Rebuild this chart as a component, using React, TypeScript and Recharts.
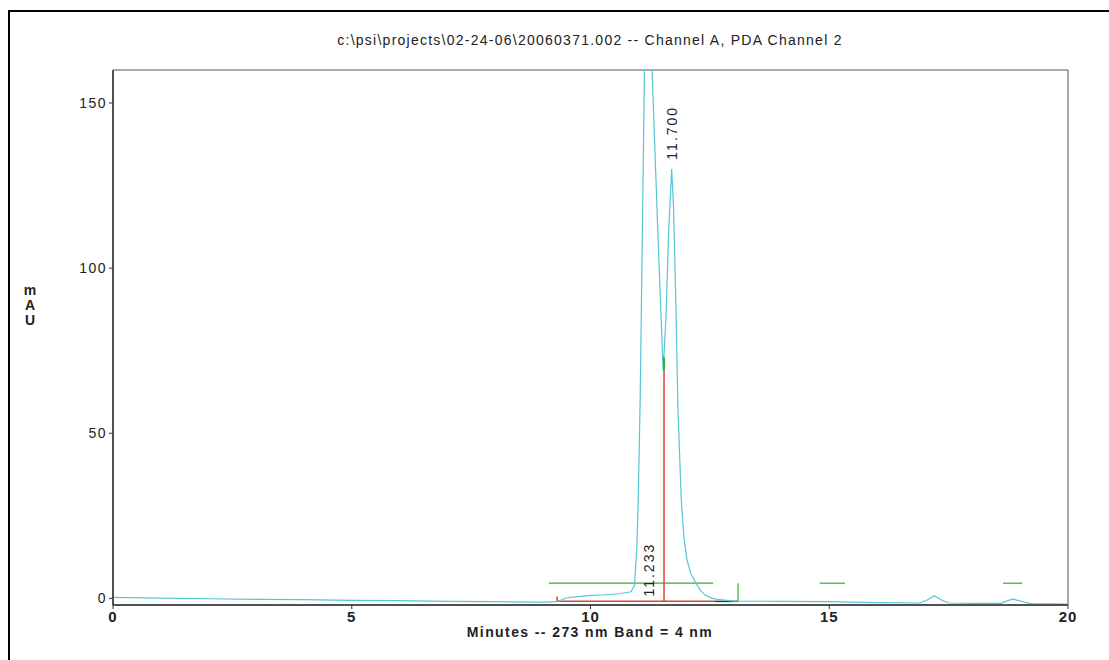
import React from "react"
import { LineChart, Line, XAxis, YAxis, ReferenceLine, ReferenceDot, ReferenceArea } from "recharts"

// retention time (min) and detector response (mAU)
const times = [
  0, 1, 2, 3, 4, 5, 6, 7, 8, 9, 9.3, 9.5, 9.8, 10.0, 10.3, 10.6, 10.85, 10.92, 10.97, 11.0, 11.04,
  11.09, 11.13, 11.18, 11.22, 11.26, 11.29, 11.4, 11.52, 11.58, 11.64, 11.7, 11.74, 11.79, 11.83,
  11.9, 11.96, 12.02, 12.1, 12.2, 12.3, 12.4, 12.55, 12.7, 13.0, 14, 15, 16, 16.9, 17.05, 17.2,
  17.35, 17.5, 18, 18.6, 18.75, 18.85, 19.0, 19.2, 20,
]
const mau = [
  0.3, 0.1, -0.1, -0.3, -0.4, -0.6, -0.7, -0.9, -1.0, -1.1, -1.0, 0.2, 0.6, 0.9, 1.1, 1.4, 2.0, 4, 15,
  30, 60, 115, 160, 195, 205, 190, 160, 115, 69, 85, 112, 130, 118, 88, 58, 30, 18, 11.7, 7.5, 4.8,
  2.5, 1, 0, -0.4, -0.8, -0.9, -1.0, -1.3, -1.4, -0.5, 0.8, -0.5, -1.4, -1.5, -1.5, -0.6, -0.2, -0.8,
  -1.6, -1.7,
]

const xTicks = [0, 5, 10, 15, 20]
const yTicks = [0, 50, 100, 150]

const peakTimes = [11.233, 11.7]
const peakNames = ["11.233", "11.700"]
const peakLabelY = [8.7, 141]

const integStart = 9.3
const integEnd = 13.09
const integBase = -0.9
const valleyTime = 11.54
const valleyValue = 69
const thresholdLevel = 4.6
const thresholdSpans = [
  [9.13, 12.57],
  [14.8, 15.33],
  [18.64, 19.04],
]

const data = times.map((t, i) => ({ t, v: mau[i] }))

const font = "'Liberation Sans', Arial, sans-serif"

const rotatedLabel = (text: string) => (props: any) => (
  <text
    x={props.cx}
    y={props.cy}
    transform={`rotate(-90 ${props.cx} ${props.cy})`}
    textAnchor="middle"
    dominantBaseline="central"
    fontFamily={font}
    fontSize={14}
    letterSpacing={2}
    fill="#222"
  >
    {text}
  </text>
)

export default function App() {
  return (
    <div style={{ position: "absolute", left: 0, top: 0, width: 1109, height: 660, overflow: "hidden", background: "#fff" }}>
      <div
        style={{
          position: "absolute",
          left: 8,
          top: 10,
          width: 1109,
          height: 660,
          borderTop: "2px solid #000",
          borderLeft: "2px solid #000",
        }}
      />
      <div
        style={{
          position: "absolute",
          left: 0,
          width: 1180,
          top: 32,
          textAlign: "center",
          fontFamily: font,
          fontSize: 14,
          letterSpacing: "1.25px",
          color: "#222",
        }}
      >
        c:\psi\projects\02-24-06\20060371.002 -- Channel A, PDA Channel 2
      </div>
      <div
        style={{
          position: "absolute",
          left: 21,
          top: 283,
          width: 18,
          textAlign: "center",
          fontFamily: font,
          fontSize: 14,
          fontWeight: "bold",
          lineHeight: "15px",
          color: "#222",
        }}
      >
        m<br />A<br />U
      </div>
      <div
        style={{
          position: "absolute",
          left: 0,
          width: 1180,
          top: 624,
          textAlign: "center",
          fontFamily: font,
          fontSize: 14,
          fontWeight: "bold",
          letterSpacing: "1.4px",
          color: "#222",
        }}
      >
        Minutes -- 273 nm Band = 4 nm
      </div>
      <div style={{ position: "absolute", left: 0, top: 0 }}>
        <LineChart width={1109} height={660} data={data} margin={{ top: 70, right: 41, left: 73, bottom: 25 }}>
          <ReferenceArea x1={0} x2={20} y1={-2} y2={160} fill="none" stroke="#555" strokeWidth={1} />
          <XAxis
            dataKey="t"
            type="number"
            domain={[0, 20]}
            ticks={xTicks}
            allowDataOverflow
            height={30}
            tickSize={4}
            axisLine={{ stroke: "#333", strokeWidth: 1.5 }}
            tickLine={{ stroke: "#333" }}
            tick={{ fontFamily: font, fontSize: 15, fill: "#222", fontWeight: "bold", letterSpacing: 1 }}
          />
          <YAxis
            type="number"
            domain={[-2, 160]}
            ticks={yTicks}
            allowDataOverflow
            width={40}
            tickSize={4}
            axisLine={{ stroke: "#333", strokeWidth: 1.5 }}
            tickLine={{ stroke: "#333" }}
            tick={{ fontFamily: font, fontSize: 14, fill: "#222", letterSpacing: 1.5 }}
          />
          {thresholdSpans.map(([a, b], i) => (
            <ReferenceLine
              key={"th" + i}
              segment={[
                { x: a, y: thresholdLevel },
                { x: b, y: thresholdLevel },
              ]}
              stroke="#3aa83a"
              strokeWidth={1.2}
            />
          ))}
          <ReferenceLine
            segment={[
              { x: integEnd, y: integBase },
              { x: integEnd, y: thresholdLevel },
            ]}
            stroke="#3aa83a"
            strokeWidth={1.2}
          />
          <ReferenceLine
            segment={[
              { x: integStart, y: integBase },
              { x: 12.6, y: integBase },
            ]}
            stroke="#d9482e"
            strokeWidth={1.5}
          />
          <ReferenceLine
            segment={[
              { x: 12.6, y: integBase },
              { x: integEnd, y: integBase },
            ]}
            stroke="#333"
            strokeWidth={1.5}
          />
          <ReferenceLine
            segment={[
              { x: integStart, y: integBase },
              { x: integStart, y: 0.6 },
            ]}
            stroke="#d9482e"
            strokeWidth={1.5}
          />
          <ReferenceLine
            segment={[
              { x: valleyTime, y: integBase },
              { x: valleyTime, y: valleyValue },
            ]}
            stroke="#d9482e"
            strokeWidth={1.5}
          />
          <Line
            type="linear"
            dataKey="v"
            stroke="#55c6d6"
            strokeWidth={1.2}
            dot={false}
            isAnimationActive={false}
          />
          <ReferenceLine
            segment={[
              { x: valleyTime, y: valleyValue },
              { x: valleyTime, y: valleyValue + 4 },
            ]}
            stroke="#3aa83a"
            strokeWidth={2}
          />
          {peakTimes.map((t, i) => (
            <ReferenceDot
              key={"pk" + i}
              x={t}
              y={peakLabelY[i]}
              r={0}
              shape={rotatedLabel(peakNames[i])}
            />
          ))}
        </LineChart>
      </div>
    </div>
  )
}
